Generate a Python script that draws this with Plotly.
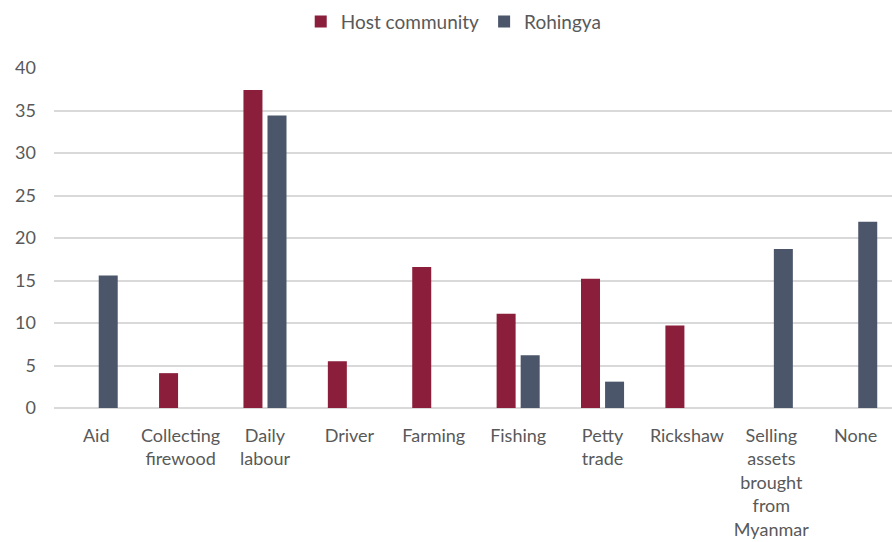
import plotly.graph_objects as go

categories = ["Aid", "Collecting<br>firewood", "Daily<br>labour", "Driver", "Farming",
              "Fishing", "Petty<br>trade", "Rickshaw",
              "Selling<br>assets<br>brought<br>from<br>Myanmar", "None"]
host = [0, 4.1, 37.4, 5.5, 16.6, 11.1, 15.2, 9.7, 0, 0]
rohingya = [15.6, 0, 34.4, 0, 0, 6.2, 3.1, 0, 18.7, 21.9]
y_ticks = [0, 5, 10, 15, 20, 25, 30, 35, 40]

host_color = "#8B1E3A"
roh_color = "#4B566B"
text_color = "#595959"
font_family = "Lato, 'Open Sans', sans-serif"

fig = go.Figure()
fig.add_trace(go.Bar(x=list(range(len(categories))), y=host, name="Host community",
                     marker=dict(color=host_color, line=dict(width=0))))
fig.add_trace(go.Bar(x=list(range(len(categories))), y=rohingya, name="Rohingya",
                     marker=dict(color=roh_color, line=dict(width=0))))

fig.update_layout(
    width=892, height=542,
    margin=dict(l=54, r=0, t=68, b=134),
    paper_bgcolor="white", plot_bgcolor="white",
    barmode="group", bargap=0.43, bargroupgap=0.21,
    font=dict(family=font_family, size=18, color=text_color),
    legend=dict(orientation="h", x=0.477, xanchor="center", y=0.995, yanchor="top",
                yref="container", font=dict(size=19, color=text_color),
                itemwidth=30, tracegroupgap=0, traceorder="normal"),
    showlegend=True,
)
fig.update_xaxes(
    tickmode="array", tickvals=list(range(len(categories))), ticktext=categories,
    range=[-0.5, 9.43], showgrid=False, zeroline=False, showline=False,
    ticks="", ticklabelstandoff=15, tickangle=0,
    tickfont=dict(size=18, color=text_color),
)
fig.update_yaxes(
    range=[0, 40], tickmode="array", tickvals=y_ticks,
    showgrid=True, gridcolor="#D9D9D9", gridwidth=1.5,
    zeroline=True, zerolinecolor="#D9D9D9", zerolinewidth=1.5,
    showline=False, ticks="", ticklabelstandoff=17,
    tickfont=dict(size=18, color=text_color),
)

fig.write_html("out.html")
